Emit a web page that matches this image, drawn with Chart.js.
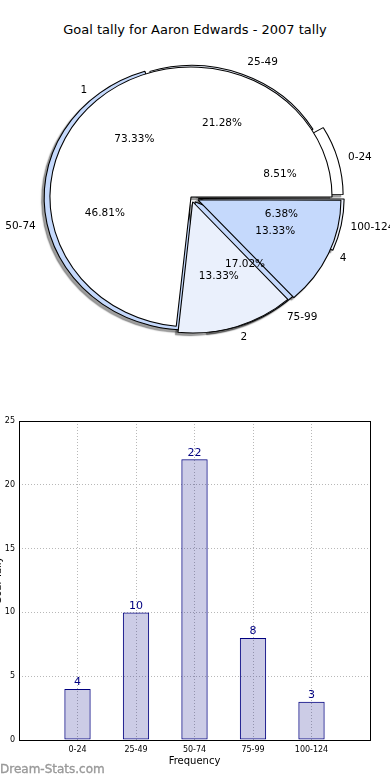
<!DOCTYPE html>
<html><head><meta charset="utf-8">
<script src="https://cdn.jsdelivr.net/npm/chart.js@4.4.1/dist/chart.umd.min.js"></script>
<style>
html,body{margin:0;padding:0;background:#fff;width:390px;height:780px;overflow:hidden;position:relative;font-family:"DejaVu Sans",sans-serif;}
#title{position:absolute;top:22px;left:0;width:390px;text-align:center;font-size:13px;color:#000;white-space:nowrap;}
.pie{position:absolute;left:0;top:0;width:390px;height:394px;}
#barBox{position:absolute;left:-8px;top:405px;width:398px;height:375px;}
#wm{position:absolute;left:0;top:762px;font-size:12px;line-height:14px;color:#999;white-space:nowrap;-webkit-text-stroke:0.35px #999;}
</style></head>
<body>
<div id="title">Goal tally for Aaron Edwards - 2007 tally</div>
<div class="pie"><canvas id="pieBack"></canvas></div>
<div class="pie"><canvas id="pieFront"></canvas></div>
<div id="barBox"><canvas id="bar"></canvas></div>
<div id="wm">Dream-Stats.com</div>
<script>
// ---- data ----
const freqLabels = ['0-24','25-49','50-74','75-99','100-124'];
const freqValues = [4,10,22,8,3];
const goalLabels = ['1','2','4'];
const goalValues = [11,2,2];
const barCategories = ['0-24','25-49','50-74','75-99','100-124'];
const barValues = [4,10,22,8,3];
const yAxisTitle = 'Goal Tally';
const xAxisTitle = 'Frequency';

// ---- styles ----
const WHITE='#ffffff', LIGHT='#eaf0fc', BLUE='#c5d9fc';
const freqColors = [WHITE, LIGHT, BLUE, BLUE, LIGHT];
const goalColors = [WHITE, LIGHT, BLUE];
const freqExplode = [7,1.5,3,6,7];   // px translation
const goalExplode = [0,5,7];
const SX = 1.085;                    // horizontal stretch of the pie
const PIE_R = 130;

Chart.defaults.font.family = '"DejaVu Sans", sans-serif';
Chart.defaults.animation = false;

const rev = a => a.slice().reverse();
let back = null, front = null;

function stretch(ctx, a){
  ctx.translate(a.x, a.y); ctx.scale(SX,1); ctx.translate(-a.x, -a.y);
}

const ellipse = {
  id:'ellipse',
  beforeDatasetsDraw(chart){
    const ctx = chart.ctx;
    if (chart === back) {
      [back, front].forEach(ch=>{
        if(!ch) return;
        ch.getDatasetMeta(0).data.forEach(arc=>{
          ctx.save();
          ctx.translate(-3000, 0);
          ctx.shadowColor='rgba(0,0,0,0.38)';
          ctx.shadowOffsetX = 3000 - 2.5; ctx.shadowOffsetY = 2.5; ctx.shadowBlur = 1.2;
          stretch(ctx, arc);
          arc.draw(ctx);
          ctx.restore();
        });
      });
    }
    ctx.save();
    stretch(ctx, chart.getDatasetMeta(0).data[0]);
  },
  afterDatasetsDraw(chart){ chart.ctx.restore(); }
};

function pieConfig(labels, values, colors, explode){
  return {
    type:'pie',
    data:{labels: rev(labels), datasets:[{
      data: rev(values),
      backgroundColor: rev(colors),
      borderColor:'#000', borderWidth:1,
      offset: rev(explode).map(v=>v*4),
      clip:false
    }]},
    options:{
      responsive:true, maintainAspectRatio:false,
      rotation:90, radius:PIE_R,
      layout:{padding:{left:40,right:48,top:40,bottom:40}},
      events:[],
      plugins:{legend:{display:false},tooltip:{enabled:false}}
    },
    plugins:[ellipse]
  };
}

function drawPieLabels(chart, labels, values, explode, ctx){
  const meta = chart.getDatasetMeta(0);
  const n = labels.length;
  const total = values.reduce((s,v)=>s+v,0);
  meta.data.forEach((arc,j)=>{
    const i = n-1-j;
    const mid = (arc.startAngle+arc.endAngle)/2;
    const off = explode[i];
    const c = Math.cos(mid), s = Math.sin(mid);
    const R = arc.outerRadius;
    ctx.textBaseline='middle';
    ctx.fillStyle='#000';
    ctx.font='10.5px "DejaVu Sans"';
    const rp = 0.6*R + off;
    ctx.textAlign='center';
    ctx.fillText((values[i]/total*100).toFixed(2)+'%', arc.x + SX*rp*c, arc.y + rp*s);
    const rl = 1.1*R + off;
    ctx.textAlign = c>0 ? 'left' : 'right';
    ctx.fillText(labels[i], arc.x + SX*rl*c, arc.y + rl*s);
  });
}

back = new Chart(document.getElementById('pieBack'), pieConfig(freqLabels, freqValues, freqColors, freqExplode));
const frontCfg = pieConfig(goalLabels, goalValues, goalColors, goalExplode);
frontCfg.plugins.push({
  id:'pieLabels',
  afterDraw(chart){
    const ctx = chart.ctx;
    ctx.save();
    drawPieLabels(back, freqLabels, freqValues, freqExplode, ctx);
    drawPieLabels(chart, goalLabels, goalValues, goalExplode, ctx);
    ctx.restore();
  }
});
front = new Chart(document.getElementById('pieFront'), frontCfg);
back.draw();
front.draw();

// ---- bar chart ----
const frame = {
  id:'frame',
  afterDraw(chart){
    const {left,top,right,bottom} = chart.chartArea, ctx = chart.ctx;
    ctx.save(); ctx.strokeStyle='#000'; ctx.lineWidth=1;
    ctx.strokeRect(Math.round(left)+0.5, Math.round(top)+0.5, Math.round(right-left), Math.round(bottom-top));
    ctx.restore();
  }
};
const valueLabels = {
  id:'valueLabels',
  afterDatasetsDraw(chart){
    const ctx = chart.ctx, meta = chart.getDatasetMeta(0);
    const vals = chart.data.datasets[0].data;
    ctx.save(); ctx.fillStyle='#000080'; ctx.font='11px "DejaVu Sans"';
    ctx.textAlign='center'; ctx.textBaseline='bottom';
    meta.data.forEach((b,i)=>{ if(vals[i]!=null) ctx.fillText(String(vals[i]), b.x, b.y-1); });
    ctx.restore();
  }
};
new Chart(document.getElementById('bar'), {
  type:'bar',
  data:{labels:['',...barCategories,''], datasets:[{
    data:[null,...barValues,null],
    backgroundColor:'rgba(0,0,128,0.2)', borderColor:'#000080', borderWidth:1, borderSkipped:false,
    categoryPercentage:1, barPercentage:0.45
  }]},
  options:{
    responsive:true, maintainAspectRatio:false, events:[],
    layout:{padding:{top:16,right:20,bottom:0,left:0}},
    plugins:{legend:{display:false},tooltip:{enabled:false}},
    scales:{
      x:{offset:false,
        grid:{offset:false,color:'#b8b8b8',drawTicks:false},
        border:{display:false,dash:[1,2]},
        ticks:{font:{size:8},color:'#000',padding:5,maxRotation:0,autoSkip:false},
        title:{display:true,text:xAxisTitle,font:{size:10},color:'#000',padding:{top:0,bottom:13}},
        afterFit(s){ s.height = 40; }
      },
      y:{min:0,max:25,
        grid:{color:'#b8b8b8',drawTicks:false},
        border:{display:false,dash:[1,2]},
        ticks:{stepSize:5,font:{size:8},color:'#000',padding:4},
        title:{display:true,text:yAxisTitle,font:{size:10},color:'#000',padding:0},
        afterFit(s){ s.width = 27; }
      }
    }
  },
  plugins:[frame, valueLabels]
});
</script>
</body></html>
